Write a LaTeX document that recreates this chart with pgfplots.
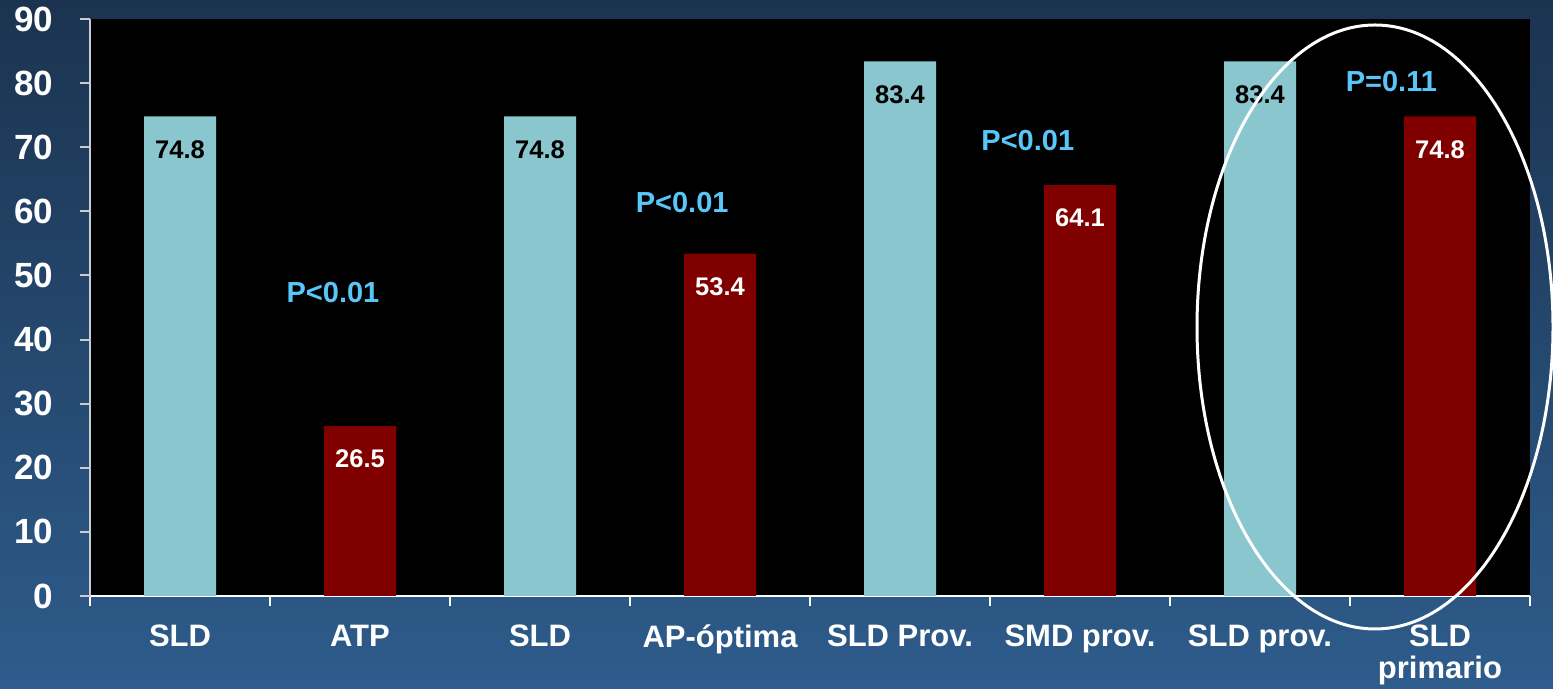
\documentclass[border=0pt]{standalone}
\usepackage{pgfplots}
\pgfplotsset{compat=1.18}
\usepackage{fontspec}
\setmainfont{Liberation Sans}

\definecolor{bgtop}{RGB}{27,51,79}
\definecolor{bgbot}{RGB}{46,92,140}
\definecolor{barblue}{RGB}{138,198,206}
\definecolor{barred}{RGB}{128,0,0}
\definecolor{pblue}{RGB}{88,198,248}
\definecolor{axisgray}{RGB}{200,205,212}

\begin{document}
\begin{tikzpicture}
% slide background
\shade[top color=bgtop, bottom color=bgbot] (0pt,0pt) rectangle (776.5pt,344.5pt);
\useasboundingbox (0pt,0pt) rectangle (776.5pt,344.5pt);

\begin{axis}[
  at={(45pt,46.5pt)}, anchor=south west,
  scale only axis, width=720pt, height=288.5pt,
  axis background/.style={fill=black},
  xmin=-0.5, xmax=7.5, ymin=0, ymax=90,
  axis x line*=bottom, axis y line*=left,
  x axis line style={white, line width=1pt},
  y axis line style={axisgray, line width=1pt},
  ytick={0,10,...,90},
  ytick style={axisgray, line width=1pt},
  tick align=outside, major tick length=5pt,
  % tick marks between the categories
  xtick={-0.5,0.5,...,7.5},
  xticklabels={},
  xtick style={white, line width=1pt},
  % category names under each bar
  extra x ticks={0,1,...,7},
  extra x tick labels={SLD, ATP, SLD, AP-óptima, SLD Prov., SMD prov., SLD prov., {SLD\\[-2pt]primario}},
  extra x tick style={major tick length=0pt},
  xticklabel style={font=\fontsize{15.5pt}{18pt}\selectfont\bfseries, text=white, align=center, yshift=-11pt},
  yticklabel style={font=\fontsize{17.5pt}{20pt}\selectfont\bfseries, text=white, xshift=-10pt},
  /pgf/number format/assume math mode=true,
  ybar, bar width=36pt, bar shift=0pt,
  nodes near coords,
  every node near coord/.append style={anchor=center, yshift=-16.5pt,
     font=\fontsize{12.75pt}{15pt}\selectfont\bfseries},
  clip=false,
]
% left bar of each comparison
\addplot[fill=barblue, draw=none, nodes near coords style={text=black}]
  coordinates {(0,74.8) (2,74.8) (4,83.4) (6,83.4)};
% right bar of each comparison
\addplot[fill=barred, draw=none, nodes near coords style={text=white}]
  coordinates {(1,26.5) (3,53.4) (5,64.1) (7,74.8)};

\begin{scope}[every node/.style={text=pblue, font=\fontsize{14.5pt}{17pt}\selectfont\bfseries}]
\node at (axis cs:0.85,47.3) {P<0.01};
\node at (axis cs:2.79,61.3) {P<0.01};
\node at (axis cs:4.71,71.0) {P<0.01};
\node at (axis cs:6.73,80.3) {P=0.11};
\end{scope}
\end{axis}

% highlight around the last comparison
\draw[white, line width=1.5pt] (687.5pt,181pt) ellipse [x radius=89pt, y radius=151pt];
\end{tikzpicture}
\end{document}
